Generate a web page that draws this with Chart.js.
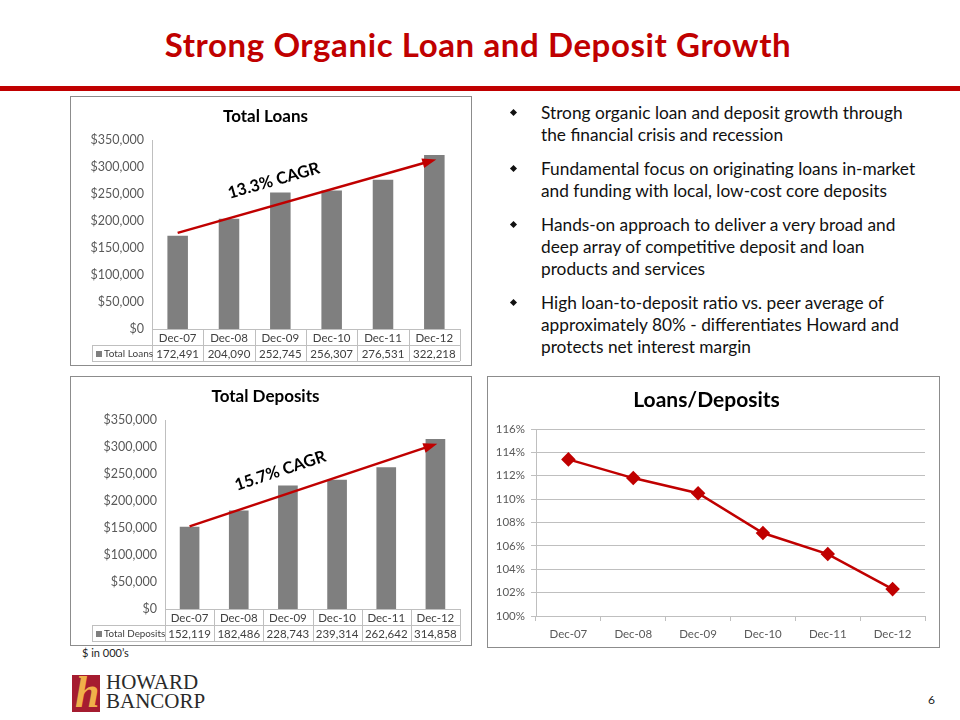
<!DOCTYPE html>
<html>
<head>
<meta charset="utf-8">
<script src="https://cdn.jsdelivr.net/npm/chart.js@4.4.1/dist/chart.umd.min.js"></script>
<style>
  body { margin: 0; background: #fff; font-family: Lato, "Open Sans", sans-serif; }
  #page { position: relative; width: 960px; height: 720px; overflow: hidden; }
  #title { position: absolute; left: 0; width: 956px; top: 24px; text-align: center;
           font-size: 33px; letter-spacing: 0.6px; font-weight: bold; color: #c00000; line-height: 40px; }
  #rule { position: absolute; left: 0; top: 86px; width: 960px; height: 5px; background: #c00000; }
  .box { position: absolute; box-sizing: border-box; border: 1px solid #8c8c8c; background: #fff; }
  .box canvas { display: block; }
  #bullets { position: absolute; left: 541px; top: 102px; width: 415px; font-size: 17.3px;
             line-height: 22px; color: #111; }
  #bullets p { margin: 0 0 12px 0; position: relative; white-space: nowrap; }
  #bullets p::before { content: ""; position: absolute; left: -30px; top: 8px; width: 5px; height: 5px;
             background: #111; transform: rotate(45deg); }
  #note { position: absolute; left: 82px; top: 646px; font-size: 11px; color: #222; }
  #pagenum { position: absolute; left: 928px; top: 692px; font-size: 12px; color: #222; }
  #logo-mark { position: absolute; left: 72px; top: 675px; width: 28px; height: 37px; background: #a51c30; overflow: hidden; }
  #logo-mark span { position: absolute; left: 3px; top: -8px; font-family: "Liberation Serif", serif; font-style: italic;
             font-weight: bold; font-size: 44px; color: #f0b04a; }
  #logo-text { position: absolute; left: 106px; top: 673px; font-family: "Liberation Serif", serif; font-size: 21px;
             line-height: 19px; color: #2a2a2a; }
</style>
</head>
<body>
<div id="page">
  <div id="title">Strong Organic Loan and Deposit Growth</div>
  <div id="rule"></div>

  <div class="box" style="left:70px; top:96px; width:402px; height:270px;">
    <canvas id="loansChart" width="400" height="268"></canvas>
  </div>
  <div class="box" style="left:70px; top:376px; width:402px; height:270px;">
    <canvas id="depositsChart" width="400" height="268"></canvas>
  </div>
  <div class="box" style="left:487px; top:376px; width:453px; height:272px;">
    <canvas id="ratioChart" width="451" height="270"></canvas>
  </div>

  <div id="bullets">
    <p>Strong organic loan and deposit growth through<br>the financial crisis and recession</p>
    <p>Fundamental focus on originating loans in-market<br>and funding with local, low-cost core deposits</p>
    <p>Hands-on approach to deliver a very broad and<br>deep array of competitive deposit and loan<br>products and services</p>
    <p>High loan-to-deposit ratio vs. peer average of<br>approximately 80% - differentiates Howard and<br>protects net interest margin</p>
  </div>

  <div id="note">$ in 000’s</div>
  <div id="logo-mark"><span>h</span></div>
  <div id="logo-text">HOWARD<br>BANCORP</div>
  <div id="pagenum">6</div>
</div>

<script>
var years = ['Dec-07', 'Dec-08', 'Dec-09', 'Dec-10', 'Dec-11', 'Dec-12'];
var totalLoans = [172491, 204090, 252745, 256307, 276531, 322218];
var totalDeposits = [152119, 182486, 228743, 239314, 262642, 314858];
var loansToDeposits = [113.4, 111.8, 110.5, 107.1, 105.3, 102.3];

var red = '#c00000';
var gridGray = '#bfbfbf';
var textGray = '#595959';
var font = 'Lato, "Open Sans", sans-serif';

// data table under the bar charts (categories row + values row)
var dataTable = {
    id: 'dataTable',
    afterDraw: function (chart, args, opts) {
        var ctx = chart.ctx;
        var x = chart.scales.x;
        var top = chart.chartArea.bottom;
        var rowH = 16;
        var n = chart.data.labels.length;
        var step = (x.right - x.left) / n;
        var labelLeft = opts.labelLeft;
        ctx.save();
        ctx.strokeStyle = gridGray;
        ctx.lineWidth = 1;
        ctx.beginPath();
        for (var i = 0; i <= n; i++) {
            var lx = Math.round(x.left + i * step) + 0.5;
            ctx.moveTo(lx, top);
            ctx.lineTo(lx, top + 2 * rowH);
        }
        ctx.moveTo(labelLeft + 0.5, top + rowH);
        ctx.lineTo(labelLeft + 0.5, top + 2 * rowH);
        ctx.moveTo(labelLeft, top + rowH + 0.5);
        ctx.lineTo(x.right, top + rowH + 0.5);
        ctx.moveTo(labelLeft, top + 2 * rowH + 0.5);
        ctx.lineTo(x.right, top + 2 * rowH + 0.5);
        ctx.stroke();

        ctx.fillStyle = '#404040';
        ctx.font = '11.5px ' + font;
        ctx.textAlign = 'center';
        ctx.textBaseline = 'middle';
        var values = chart.data.datasets[0].data;
        for (var j = 0; j < n; j++) {
            var cx = x.left + (j + 0.5) * step;
            ctx.fillText(chart.data.labels[j], cx, top + rowH / 2 + 1);
            ctx.fillText(values[j].toLocaleString('en-US'), cx, top + rowH * 1.5 + 1);
        }
        ctx.fillStyle = '#7f7f7f';
        ctx.fillRect(labelLeft + 4, top + rowH * 1.5 - 2, 6, 6);
        ctx.fillStyle = '#404040';
        ctx.textAlign = 'left';
        ctx.font = opts.labelSize + 'px ' + font;
        ctx.fillText(chart.data.datasets[0].label, labelLeft + 12, top + rowH * 1.5 + 1);
        ctx.restore();
    }
};

// CAGR trend arrow, positioned in data units
var cagrArrow = {
    id: 'cagrArrow',
    afterDatasetsDraw: function (chart, args, opts) {
        var ctx = chart.ctx;
        var x = chart.scales.x, y = chart.scales.y;
        var x0 = x.getPixelForValue(opts.from[0]), y0 = y.getPixelForValue(opts.from[1]);
        var x1 = x.getPixelForValue(opts.to[0]), y1 = y.getPixelForValue(opts.to[1]);
        var ang = Math.atan2(y1 - y0, x1 - x0);
        ctx.save();
        ctx.strokeStyle = red;
        ctx.fillStyle = red;
        ctx.lineWidth = 2.5;
        ctx.beginPath();
        ctx.moveTo(x0, y0);
        ctx.lineTo(x1 - 9 * Math.cos(ang), y1 - 9 * Math.sin(ang));
        ctx.stroke();
        ctx.translate(x1, y1);
        ctx.rotate(ang);
        ctx.beginPath();
        ctx.moveTo(2, 0);
        ctx.lineTo(-12, -5);
        ctx.lineTo(-12, 5);
        ctx.closePath();
        ctx.fill();
        ctx.restore();

        var t = 0.40;
        var tx = x0 + (x1 - x0) * t + 24 * Math.sin(ang);
        var ty = y0 + (y1 - y0) * t - 24 * Math.cos(ang);
        ctx.save();
        ctx.translate(tx, ty);
        ctx.rotate(ang);
        ctx.fillStyle = '#000';
        ctx.font = 'bold 16.5px ' + font;
        ctx.textAlign = 'center';
        ctx.textBaseline = 'middle';
        ctx.fillText(opts.text, 0, 0);
        ctx.restore();
    }
};

function barChart(id, title, label, values, axisWidth, labelSize, arrow) {
    return new Chart(id, {
        type: 'bar',
        data: {
            labels: years,
            datasets: [{
                label: label,
                data: values,
                backgroundColor: '#7f7f7f',
                barPercentage: 0.4,
                categoryPercentage: 1
            }]
        },
        options: {
            responsive: false,
            animation: false,
            layout: { padding: { left: 0, right: 11, top: 0, bottom: 4 } },
            plugins: {
                legend: { display: false },
                tooltip: { enabled: false },
                title: {
                    display: true,
                    text: title,
                    color: '#000',
                    font: { family: font, size: 17, weight: 'bold', lineHeight: 1.2 },
                    padding: { top: 9, bottom: 13.6 }
                },
                dataTable: { labelLeft: 21, labelSize: labelSize },
                cagrArrow: arrow
            },
            scales: {
                x: {
                    grid: { display: false },
                    border: { color: gridGray },
                    ticks: { display: false },
                    afterFit: function (scale) { scale.height = 32; }
                },
                y: {
                    min: 0,
                    max: 350000,
                    grid: { display: false, drawTicks: false },
                    border: { color: gridGray },
                    ticks: {
                        stepSize: 50000,
                        padding: 8,
                        color: textGray,
                        font: { family: font, size: 12.5 },
                        callback: function (v) { return '$' + v.toLocaleString('en-US'); }
                    },
                    afterFit: function (scale) { scale.width = axisWidth; }
                }
            }
        },
        plugins: [dataTable, cagrArrow]
    });
}

barChart('loansChart', 'Total Loans', 'Total Loans', totalLoans, 81, 10,
    { from: [0, 178000], to: [5, 313000], text: '13.3% CAGR' });
barChart('depositsChart', 'Total Deposits', 'Total Deposits', totalDeposits, 94, 9.8,
    { from: [0, 153000], to: [5, 305000], text: '15.7% CAGR' });

new Chart('ratioChart', {
    type: 'line',
    data: {
        labels: years,
        datasets: [{
            label: 'Loans/Deposits',
            data: loansToDeposits,
            borderColor: red,
            backgroundColor: red,
            borderWidth: 2.5,
            pointStyle: 'rectRot',
            pointRadius: 5.5,
            pointBackgroundColor: red,
            pointBorderColor: red,
            tension: 0
        }]
    },
    options: {
        responsive: false,
        animation: false,
        layout: { padding: { left: 0, right: 14, top: 0, bottom: 5 } },
        plugins: {
            legend: { display: false },
            tooltip: { enabled: false },
            title: {
                display: true,
                text: 'Loans/Deposits',
                color: '#000',
                font: { family: font, size: 21, weight: 'bold', lineHeight: 1.2 },
                padding: { top: 10.4, bottom: 16.4 }
            }
        },
        scales: {
            x: {
                offset: true,
                grid: { offset: true, drawOnChartArea: false, drawTicks: true, tickLength: 5, color: gridGray },
                border: { color: gridGray },
                ticks: { padding: 6, color: textGray, font: { family: font, size: 11.5 } },
                afterFit: function (scale) { scale.height = 26; }
            },
            y: {
                min: 100,
                max: 116,
                grid: { color: gridGray, tickLength: 5 },
                border: { color: gridGray },
                ticks: {
                    stepSize: 2,
                    padding: 6,
                    color: textGray,
                    font: { family: font, size: 11.5 },
                    callback: function (v) { return v + '%'; }
                },
                afterFit: function (scale) { scale.width = 48; }
            }
        }
    }
});
</script>
</body>
</html>
